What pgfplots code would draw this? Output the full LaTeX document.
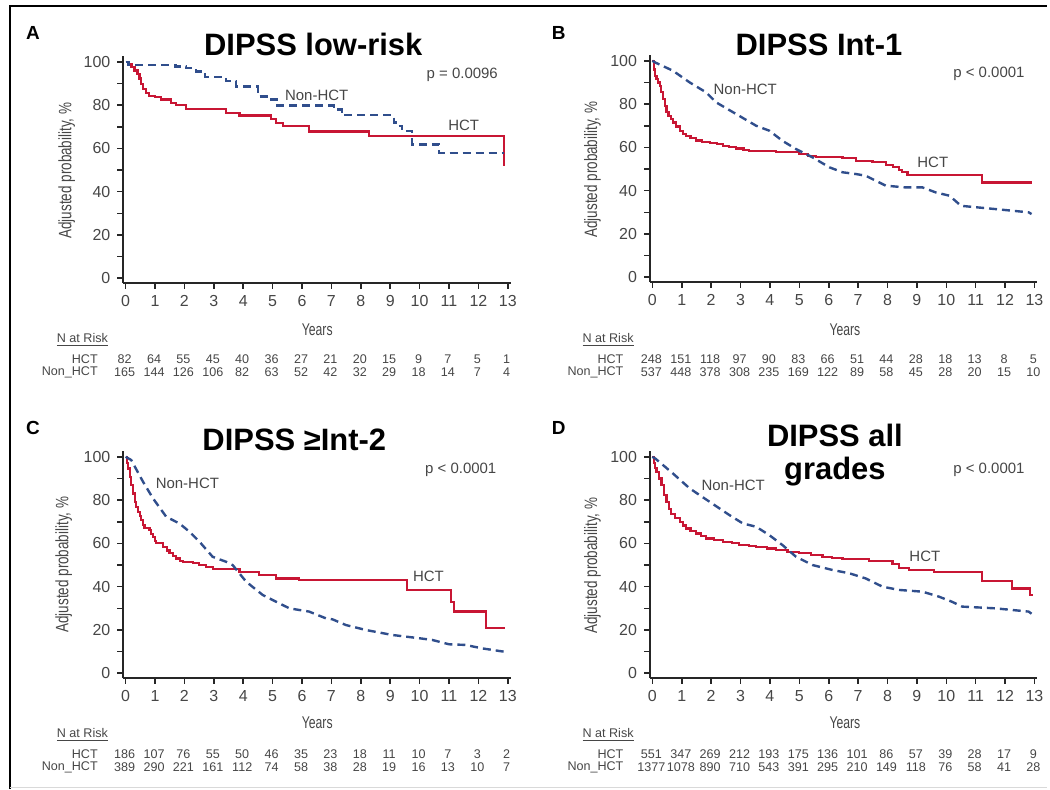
\documentclass[border=0pt]{standalone}
\usepackage{fontspec}
\setmainfont{Liberation Sans}
\usepackage{pgfplots}
\pgfplotsset{compat=1.18}

\definecolor{hct}{RGB}{200,22,52}
\definecolor{nonhct}{RGB}{48,78,140}
\definecolor{tick}{RGB}{70,70,70}

\pgfplotsset{
  km/.style={
    scale only axis, width=194.2pt, height=113.4pt,
    xmin=-0.08, xmax=13.1, ymin=-2, ymax=102.5,
    axis lines=left, axis line style={-, line width=1pt, black!85},
    xtick={0,...,13}, ytick={0,20,...,100}, minor ytick={10,30,...,90},
    tick align=outside, major tick length=3pt, minor tick length=3pt,
    tick style={black!85, line width=0.8pt},
    ticklabel style={font=\fontsize{8}{9}\selectfont, text=tick},
    /pgf/number format/assume math mode=true,
    clip=false, anchor=south west,
  },
  hctline/.style={const plot, hct, line width=1.1pt},
  nonline/.style={nonhct, line width=1.2pt, dash pattern=on 4pt off 2.5pt},
}
\tikzset{lbl/.style={font=\fontsize{7.5}{8}\selectfont, text=tick}}

\begin{document}
\begin{tikzpicture}

% ---- A: low-risk
\begin{axis}[km, at={(61.8pt,-141.65pt)}]
\addplot[hctline] coordinates {
 (0,100)(0.08,98.8)(0.2,97.5)(0.3,96)(0.4,94.2)(0.47,92.3)(0.53,89.8)(0.6,87.5)
 (0.7,85.6)(0.8,84.3)(1.0,83.6)(1.2,82.6)(1.55,81.1)(1.7,79.9)(2.06,78)(3.42,76.5)
 (3.87,75.2)(4.94,73.4)(5.11,71.8)(5.34,70.3)(6.24,67.8)(8.28,65.7)(12.86,51.8)};
\addplot[nonline, const plot] coordinates {
 (0,100)(0.1,98.5)(1.7,97.8)(2.06,97.2)(2.4,95.5)(2.7,93)(3.42,91)(3.76,88.5)
 (4.5,84)(4.94,82.6)(5.17,79.8)(7.09,78)(7.35,75.3)(9.13,72)(9.24,70.3)(9.41,68)
 (9.75,61.8)(10.66,58)(12.86,58)};
\node[lbl] at (axis cs:6.5,84.3) {Non-HCT};
\node[lbl] at (axis cs:11.5,70.5) {HCT};
\node[lbl, anchor=east] at (axis cs:12.9,94) {p = 0.0096};
\end{axis}

% ---- B: Int-1
\begin{axis}[km, at={(325.8pt,-141.15pt)}]
\addplot[hctline] coordinates {
 (0,100)(0.05,96)(0.1,93)(0.14,91.5)(0.2,90)(0.25,88.5)(0.3,85.5)(0.36,82.3)(0.42,79)
 (0.48,76.2)(0.55,74.5)(0.63,73)(0.7,71.5)(0.8,69.6)(0.93,67.7)(1.05,66.3)(1.15,65.4)
 (1.3,64.2)(1.49,63.2)(1.7,62.5)(1.95,62)(2.2,61.5)(2.4,60.8)(2.6,60.2)(2.85,59.5)
 (3.1,58.9)(3.3,58.4)(4.2,58)(4.66,57.7)(5.0,56.8)(5.3,56)(5.57,55.4)(6.47,55)
 (6.92,53.8)(7.49,53.1)(7.94,51.8)(8.2,50.8)(8.39,49.5)(8.5,48.5)(8.68,47.2)
 (11.22,43.8)(12.92,43.8)};
\addplot[nonline] coordinates {
 (0,100)(0.1,99.2)(0.7,95.4)(1.27,90)(1.83,85.4)(2.17,80.8)(2.85,75.4)(3.53,70)
 (3.98,67.7)(4.43,63)(4.89,59.2)(5.45,55.4)(6.02,50.8)(6.47,48.5)(6.92,47.7)
 (7.26,46.9)(7.6,44.6)(7.94,42.3)(8.62,41.5)(9.19,41.5)(9.64,39.2)(10.1,37.7)
 (10.3,35.4)(10.5,33)(11.67,31.5)(12.8,30)(12.9,29.2)};
\node[lbl] at (axis cs:3.16,86.6) {Non-HCT};
\node[lbl] at (axis cs:9.54,53.2) {HCT};
\node[lbl, anchor=east] at (axis cs:12.9,94) {p < 0.0001};
\end{axis}

% ---- C: >= Int-2
\begin{axis}[km, at={(61.8pt,-339.65pt)}]
\addplot[hctline] coordinates {
 (0,100)(0.04,97)(0.08,94.6)(0.14,90.5)(0.19,86.9)(0.25,83)(0.31,79.2)(0.36,76.8)
 (0.42,74.6)(0.48,72.5)(0.53,70.8)(0.6,68.5)(0.64,67.2)(0.81,66.2)(0.87,64.5)
 (0.93,63.1)(1.0,61.2)(1.04,60)(1.27,58.3)(1.4,56.7)(1.49,55.4)(1.6,54.2)(1.72,53)
 (1.85,51.9)(1.95,51.5)(2.29,50.8)(2.5,50)(2.74,49.2)(2.96,48)(3.87,46.6)(4.55,45.4)
 (5.11,43.8)(5.9,43.1)(9.58,38.5)(11.07,33.1)(11.17,28.5)(12.26,21.1)(12.92,21.1)};
\addplot[nonline] coordinates {
 (0,100)(0.19,98.5)(0.59,88.5)(0.93,80.8)(1.38,72.3)(1.83,69.2)(2.17,65.4)(2.51,60.8)
 (2.96,53.8)(3.42,51.5)(3.64,50)(4.1,42.3)(4.66,36.2)(5.11,33.1)(5.57,30)(6.24,28.5)
 (6.81,25.4)(7.04,24.9)(7.49,22.3)(8.17,20)(9.07,17.7)(9.98,16.2)(10.43,15.4)
 (11.0,13.4)(11.56,13.1)(12.13,11.5)(12.86,10)};
\node[lbl] at (axis cs:2.1,87.6) {Non-HCT};
\node[lbl] at (axis cs:10.3,44.7) {HCT};
\node[lbl, anchor=east] at (axis cs:12.85,94) {p < 0.0001};
\end{axis}

% ---- D: all grades
\begin{axis}[km, at={(325.8pt,-339.65pt)}]
\addplot[hctline] coordinates {
 (0,100)(0.05,97)(0.1,95)(0.14,93.1)(0.22,90)(0.31,86.9)(0.4,82.5)(0.48,79.2)(0.56,76)
 (0.64,73.4)(0.78,71.6)(0.93,70)(1.05,68.3)(1.15,66.9)(1.3,65.6)(1.49,64.6)(1.65,63.4)
 (1.83,62.3)(2.1,61.5)(2.4,60.8)(2.7,60)(2.96,59.2)(3.3,58.8)(3.53,58.5)(3.9,57.6)
 (4.21,56.9)(4.6,56.2)(5.0,55.4)(5.4,54.5)(5.79,53.8)(6.1,53.2)(6.47,52.7)(7.38,51.7)
 (8.17,50.3)(8.39,48.5)(8.73,47.7)(9.58,46.6)(11.22,42.6)(12.24,39.2)(12.86,36.2)(12.95,36.2)};
\addplot[nonline] coordinates {
 (0,100)(0.1,99.2)(0.7,92.3)(1.27,85.4)(1.95,79.2)(2.62,73.1)(3.08,69.2)(3.53,67.7)
 (3.98,63.8)(4.43,59.2)(4.89,53.8)(5.45,50)(6.13,47.7)(6.7,46.2)(7.26,43.8)(7.83,40)
 (8.39,38.5)(9.19,37.7)(9.75,35.4)(10.2,33)(10.54,30.8)(11.67,30)(12.8,28.5)(12.9,27.5)};
\node[lbl] at (axis cs:2.75,87) {Non-HCT};
\node[lbl] at (axis cs:9.27,53.9) {HCT};
\node[lbl, anchor=east] at (axis cs:12.9,94) {p < 0.0001};
\end{axis}

% ---- annotations in reference pixel units
\begin{scope}[x=0.5pt, y=-0.5pt,
  rk/.style={font=\fontsize{6.3}{7}\selectfont, text=tick},
  ttl/.style={anchor=base, font=\bfseries\fontsize{15.5}{18}\selectfont},
  let/.style={font=\bfseries\fontsize{9.5}{11}\selectfont},
  yl/.style={rotate=90, font=\fontsize{9}{10}\selectfont, text=tick},
  xl/.style={font=\fontsize{8.5}{10}\selectfont, text=tick}]
\path[use as bounding box] (0,0) rectangle (1050,791);
\draw[line width=1pt] (10,791) -- (10,6) -- (1050,6);
\draw[black!15, line width=0.5pt] (10,789) -- (1050,789);

\node[let] at (33,33) {A};
\node[let] at (560,33) {B};
\node[let] at (33,429) {C};
\node[let] at (560,429) {D};

\node[ttl] at (314,56) {DIPSS low-risk};
\node[ttl] at (821,56) {DIPSS Int-1};
\node[ttl] at (295,452) {DIPSS ≥Int-2};
\node[ttl] at (837,448) {DIPSS all};
\node[ttl] at (837,481) {grades};

\node[yl] at (67,171) {\scalebox{0.75}[1]{Adjusted probability, \%}};
\node[yl] at (594,170) {\scalebox{0.75}[1]{Adjusted probability, \%}};
\node[yl] at (64,566) {\scalebox{0.75}[1]{Adjusted probability, \%}};
\node[yl] at (594,567) {\scalebox{0.75}[1]{Adjusted probability, \%}};

\node[xl] at (318,331) {\scalebox{0.72}[1]{Years}};
\node[xl] at (847,331) {\scalebox{0.72}[1]{Years}};
\node[xl] at (318,725) {\scalebox{0.72}[1]{Years}};
\node[xl] at (847,725) {\scalebox{0.72}[1]{Years}};

% risk tables
\node[rk, anchor=west] at (50,341) {\underline{N at Risk}};
\node[rk, anchor=east] at (105,360) {HCT};
\node[rk, anchor=east] at (105,373) {Non\_HCT};
\foreach \v [count=\i from 0] in {82,64,55,45,40,36,27,21,20,15,9,7,5,1}
  \node[rk] at ({125+29.46*\i},360) {\v};
\foreach \v [count=\i from 0] in {165,144,126,106,82,63,52,42,32,29,18,14,7,4}
  \node[rk] at ({125+29.46*\i},373) {\v};

\node[rk, anchor=west] at (577,341) {\underline{N at Risk}};
\node[rk, anchor=east] at (632,360) {HCT};
\node[rk, anchor=east] at (632,373) {Non\_HCT};
\foreach \v [count=\i from 0] in {248,151,118,97,90,83,66,51,44,28,18,13,8,5}
  \node[rk] at ({653+29.46*\i},360) {\v};
\foreach \v [count=\i from 0] in {537,448,378,308,235,169,122,89,58,45,28,20,15,10}
  \node[rk] at ({653+29.46*\i},373) {\v};

\node[rk, anchor=west] at (50,737) {\underline{N at Risk}};
\node[rk, anchor=east] at (105,756) {HCT};
\node[rk, anchor=east] at (105,769) {Non\_HCT};
\foreach \v [count=\i from 0] in {186,107,76,55,50,46,35,23,18,11,10,7,3,2}
  \node[rk] at ({125+29.46*\i},756) {\v};
\foreach \v [count=\i from 0] in {389,290,221,161,112,74,58,38,28,19,16,13,10,7}
  \node[rk] at ({125+29.46*\i},769) {\v};

\node[rk, anchor=west] at (577,737) {\underline{N at Risk}};
\node[rk, anchor=east] at (632,756) {HCT};
\node[rk, anchor=east] at (632,769) {Non\_HCT};
\foreach \v [count=\i from 0] in {551,347,269,212,193,175,136,101,86,57,39,28,17,9}
  \node[rk] at ({653+29.46*\i},756) {\v};
\foreach \v [count=\i from 0] in {1377,1078,890,710,543,391,295,210,149,118,76,58,41,28}
  \node[rk] at ({653+29.46*\i},769) {\v};
\end{scope}

\end{tikzpicture}
\end{document}
